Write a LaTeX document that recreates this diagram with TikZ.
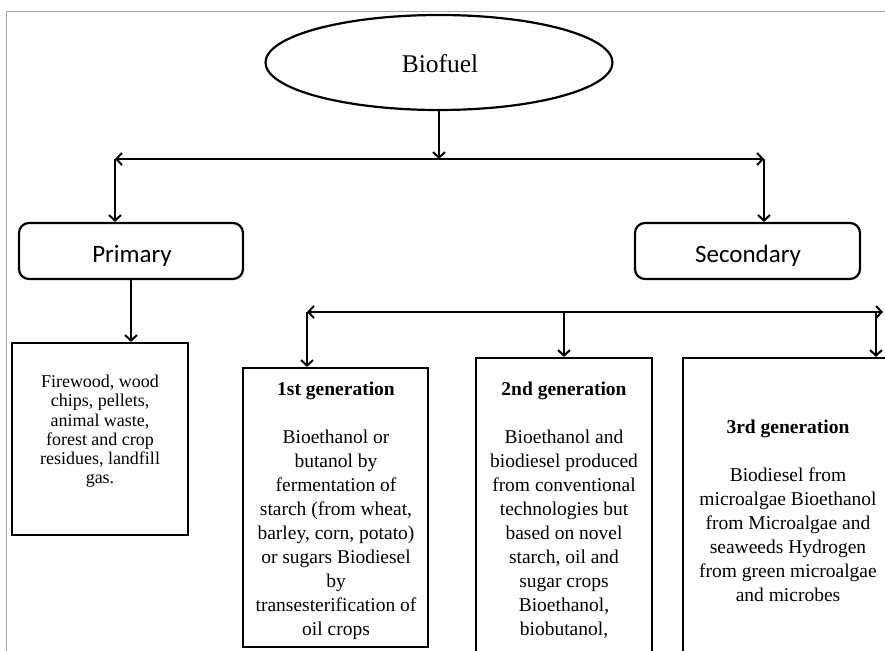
\documentclass[tikz,border=0pt]{standalone}
\usepackage{fontspec}
\setmainfont{Liberation Serif}
\newfontfamily\calib{Carlito}
\usetikzlibrary{shapes.geometric,arrows.meta}
\begin{document}
\begin{tikzpicture}[x=1pt,y=-1pt,
  tip/.tip={Straight Barb[length=5.5pt,width=12pt,line width=2pt]},
  arr/.style={line width=2.2pt,-tip},
  dblarr/.style={line width=2.2pt,tip-tip},
  rbox/.style={draw,line width=2.2pt,rounded corners=10pt,inner sep=0pt},
  sbox/.style={draw,line width=2.2pt,inner sep=0pt},
  sanslbl/.style={inner sep=0pt,font=\calib\fontsize{25}{30}\selectfont},
  bodytxt/.style={inner sep=0pt,align=center,font=\fontsize{19.5}{24}\selectfont},
  firetxt/.style={inner sep=0pt,align=center,font=\fontsize{18}{19.2}\selectfont}
]
\useasboundingbox (0,0) rectangle (885,650);
% frame
\draw[gray!70,line width=1pt] (890,12) -| (6,660);

% top ellipse
\node[draw,ellipse,line width=2.2pt,minimum width=347pt,minimum height=95pt,inner sep=0pt] (bio) at (439,62.5) {};
\node[inner sep=0pt,anchor=base,font=\fontsize{25.5}{30}\selectfont] (biot) at (440,73) {Biofuel};

% primary / secondary
\node[rbox,minimum width=224pt,minimum height=56pt] (prim) at (131,251) {};
\node[sanslbl,anchor=base] (primtxt) at (132,262) {Primary};
\node[rbox,minimum width=225pt,minimum height=56pt] (sec) at (747.5,251) {};
\node[sanslbl,anchor=base] (sectxt) at (748,262) {Secondary};

% lower boxes
\node[sbox,minimum width=176pt,minimum height=192pt] (fire) at (100,439) {};
\node[firetxt,anchor=north] (firet) at (100,375) {Firewood, wood\\chips, pellets,\\animal waste,\\forest and crop\\residues, landfill\\gas.};

\node[sbox,minimum width=185pt,minimum height=279pt] (g1) at (335.5,507.5) {};
\node[bodytxt,anchor=north] (g1t) at (336,381.5) {\textbf{1st generation}\\[24pt]Bioethanol or\\butanol by\\fermentation of\\starch (from wheat,\\barley, corn, potato)\\or sugars Biodiesel\\by\\transesterification of\\oil crops};

\node[sbox,minimum width=176pt,minimum height=312pt] (g2) at (564,514) {};
\node[bodytxt,anchor=north] (g2t) at (564,381.5) {\textbf{2nd generation}\\[24pt]Bioethanol and\\biodiesel produced\\from conventional\\technologies but\\based on novel\\starch, oil and\\sugar crops\\Bioethanol,\\biobutanol,};

\node[sbox,minimum width=217pt,minimum height=312pt] (g3) at (791.5,514) {};
\node[bodytxt,anchor=north] (g3t) at (788,420) {\textbf{3rd generation}\\[24pt]Biodiesel from\\microalgae Bioethanol\\from Microalgae and\\seaweeds Hydrogen\\from green microalgae\\and microbes};

% connectors top
\coordinate (jl) at (115,159);
\coordinate (jr) at (764,159);
\draw[arr] (bio.south) -- (bio.south |- jl);
\draw[dblarr] (jl) -- (jr);
\draw[arr] (jl) -- (jl |- prim.north);
\draw[arr] (jr) -- (jr |- sec.north);
\draw[arr] (prim.south) -- (prim.south |- fire.north);

% connectors bottom
\coordinate (kl) at (307,312);
\coordinate (kr) at (883,312);
\coordinate (kv) at (876,312);
\draw[dblarr] (kl) -- (kr);
\draw[arr] (kl) -- (kl |- g1.north);
\draw[arr] (g2.north |- kl) -- (g2.north);
\draw[arr] (kv) -- (kv |- g3.north);
\end{tikzpicture}
\end{document}
